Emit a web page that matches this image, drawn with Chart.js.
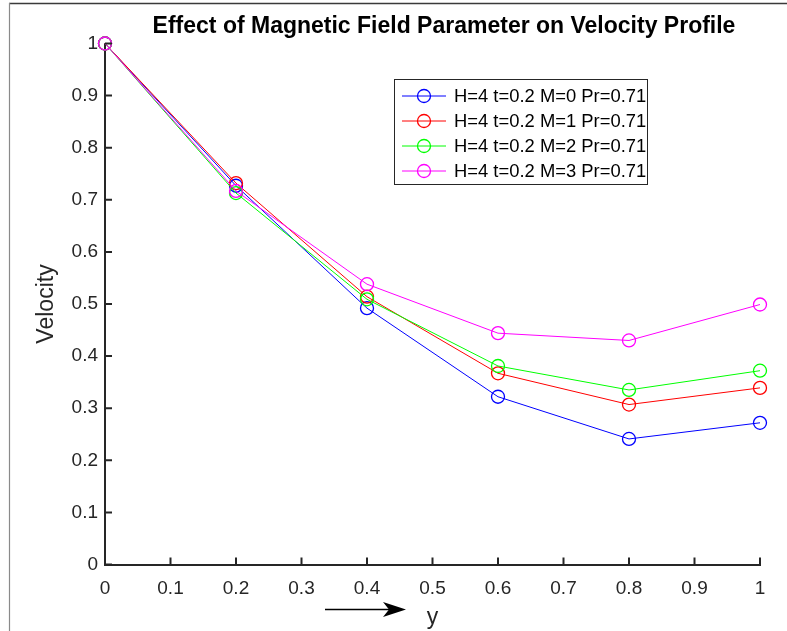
<!DOCTYPE html>
<html lang="en">
<head>
    <meta charset="UTF-8">
    <title>Effect of Magnetic Field Parameter on Velocity Profile</title>
    <script src="https://cdn.jsdelivr.net/npm/chart.js"></script>
    <style>
        html, body {
            margin: 0;
            padding: 0;
            background: #ffffff;
        }
        #wrap {
            width: 787px;
            height: 631px;
        }
    </style>
</head>
<body>
    <div id="wrap">
        <canvas id="velChart" width="787" height="631"></canvas>
    </div>
    <script>
        // values
        const yPos = [0, 0.2, 0.4, 0.6, 0.8, 1];
        const velM0 = [1, 0.727, 0.492, 0.322, 0.241, 0.272];
        const velM1 = [1, 0.732, 0.514, 0.367, 0.307, 0.339];
        const velM2 = [1, 0.713, 0.509, 0.381, 0.335, 0.372];
        const velM3 = [1, 0.717, 0.538, 0.444, 0.430, 0.499];
        const seriesLabels = [
            'H=4 t=0.2 M=0 Pr=0.71',
            'H=4 t=0.2 M=1 Pr=0.71',
            'H=4 t=0.2 M=2 Pr=0.71',
            'H=4 t=0.2 M=3 Pr=0.71'
        ];
        const seriesColors = ['#0000ff', '#ff0000', '#00ff00', '#ff00ff'];
        const tickValues = [0, 0.1, 0.2, 0.3, 0.4, 0.5, 0.6, 0.7, 0.8, 0.9, 1];
        const chartTitle = 'Effect of Magnetic Field Parameter on Velocity Profile';

        const FONT = 'Arial, "Liberation Sans", sans-serif';
        const TXT = '#262626';

        function makeSet(i, vals) {
            return {
                label: seriesLabels[i],
                data: yPos.map((x, k) => ({ x: x, y: vals[k] })),
                borderColor: seriesColors[i],
                borderWidth: 1,
                pointStyle: 'circle',
                pointRadius: 6.5,
                pointBorderWidth: 1.3,
                pointBorderColor: seriesColors[i],
                pointBackgroundColor: 'rgba(0,0,0,0)',
                tension: 0,
                fill: false,
                clip: false,
                order: 3 - i   // later series on top, like the original
            };
        }

        // title, inward ticks, page border, legend box and the arrow under the x axis
        const extras = {
            id: 'extras',
            afterDraw(chart) {
                const ctx = chart.ctx;
                const xs = chart.scales.x, ys = chart.scales.y;
                const ca = chart.chartArea;
                ctx.save();

                // border of the exported figure
                ctx.strokeStyle = '#3a3a3a';
                ctx.lineWidth = 1.5;
                ctx.beginPath();
                ctx.moveTo(9, 3.5);
                ctx.lineTo(787, 3.5);
                ctx.stroke();
                ctx.strokeStyle = '#8a8a8a';
                ctx.lineWidth = 1.2;
                ctx.beginPath();
                ctx.moveTo(9.5, 3);
                ctx.lineTo(9.5, 631);
                ctx.stroke();

                // title
                ctx.fillStyle = '#000000';
                ctx.font = 'bold 23px ' + FONT;
                ctx.textAlign = 'center';
                ctx.textBaseline = 'middle';
                ctx.fillText(chartTitle, 444, 27);

                // tick marks pointing into the plot
                ctx.strokeStyle = TXT;
                ctx.lineWidth = 2;
                ctx.beginPath();
                tickValues.forEach(v => {
                    const px = xs.getPixelForValue(v);
                    ctx.moveTo(px, ca.bottom);
                    ctx.lineTo(px, ca.bottom - 7);
                    const py = ys.getPixelForValue(v);
                    ctx.moveTo(ca.left, py);
                    ctx.lineTo(ca.left + 7, py);
                });
                ctx.stroke();

                // legend
                const bx = 394, by = 79, bw = 253, bh = 105;
                ctx.fillStyle = '#ffffff';
                ctx.fillRect(bx, by, bw, bh);
                ctx.strokeStyle = '#262626';
                ctx.lineWidth = 1;
                ctx.strokeRect(bx + 0.5, by + 0.5, bw, bh);
                ctx.font = '18.4px ' + FONT;
                ctx.textBaseline = 'middle';
                ctx.textAlign = 'left';
                chart.data.datasets.forEach((ds, i) => {
                    const ry = by + 17 + i * 25;
                    ctx.strokeStyle = ds.borderColor;
                    ctx.lineWidth = 1;
                    ctx.beginPath();
                    ctx.moveTo(bx + 8, ry);
                    ctx.lineTo(bx + 52, ry);
                    ctx.stroke();
                    ctx.lineWidth = 1.3;
                    ctx.beginPath();
                    ctx.arc(bx + 30, ry, 6.5, 0, Math.PI * 2);
                    ctx.stroke();
                    ctx.fillStyle = '#000000';
                    ctx.fillText(ds.label, bx + 60, ry + 1);
                });

                // arrow next to the x label
                ctx.strokeStyle = '#000000';
                ctx.fillStyle = '#000000';
                ctx.lineWidth = 1.3;
                ctx.beginPath();
                ctx.moveTo(325, 609.5);
                ctx.lineTo(392, 609.5);
                ctx.stroke();
                ctx.beginPath();
                ctx.moveTo(406, 609.5);
                ctx.lineTo(383, 602);
                ctx.lineTo(389, 609.5);
                ctx.lineTo(383, 617);
                ctx.closePath();
                ctx.fill();

                ctx.restore();
            }
        };

        const ctxVel = document.getElementById('velChart').getContext('2d');
        const velChart = new Chart(ctxVel, {
            type: 'line',
            data: {
                datasets: [
                    makeSet(0, velM0),
                    makeSet(1, velM1),
                    makeSet(2, velM2),
                    makeSet(3, velM3)
                ]
            },
            options: {
                responsive: false,
                animation: false,
                events: [],
                layout: {
                    padding: { left: 0, right: 27, top: 43.5, bottom: 0 }
                },
                plugins: {
                    legend: { display: false },
                    tooltip: { enabled: false },
                    title: { display: false }
                },
                scales: {
                    x: {
                        type: 'linear',
                        min: 0,
                        max: 1,
                        afterFit: s => { s.height = 66.5; },
                        afterBuildTicks: s => { s.ticks = tickValues.map(v => ({ value: v })); },
                        grid: { display: true, drawOnChartArea: false, drawTicks: false },
                        border: { display: true, color: TXT, width: 2 },
                        ticks: {
                            color: TXT,
                            font: { family: FONT, size: 19 },
                            padding: 13,
                            maxRotation: 0,
                            autoSkip: false,
                            callback: v => String(Math.round(v * 10) / 10)
                        },
                        title: {
                            display: true,
                            text: 'y',
                            color: TXT,
                            font: { family: FONT, size: 23 },
                            padding: { top: 0, bottom: 0 }
                        }
                    },
                    y: {
                        type: 'linear',
                        min: 0,
                        max: 1,
                        afterFit: s => { s.width = 105; },
                        afterBuildTicks: s => { s.ticks = tickValues.map(v => ({ value: v })); },
                        grid: { display: true, drawOnChartArea: false, drawTicks: false },
                        border: { display: true, color: TXT, width: 2 },
                        ticks: {
                            color: TXT,
                            font: { family: FONT, size: 19 },
                            padding: 7,
                            autoSkip: false,
                            callback: v => String(Math.round(v * 10) / 10)
                        },
                        title: {
                            display: true,
                            text: 'Velocity',
                            color: TXT,
                            font: { family: FONT, size: 23 },
                            padding: { top: 33, bottom: 0 }
                        }
                    }
                }
            },
            plugins: [extras]
        });
    </script>
</body>
</html>
